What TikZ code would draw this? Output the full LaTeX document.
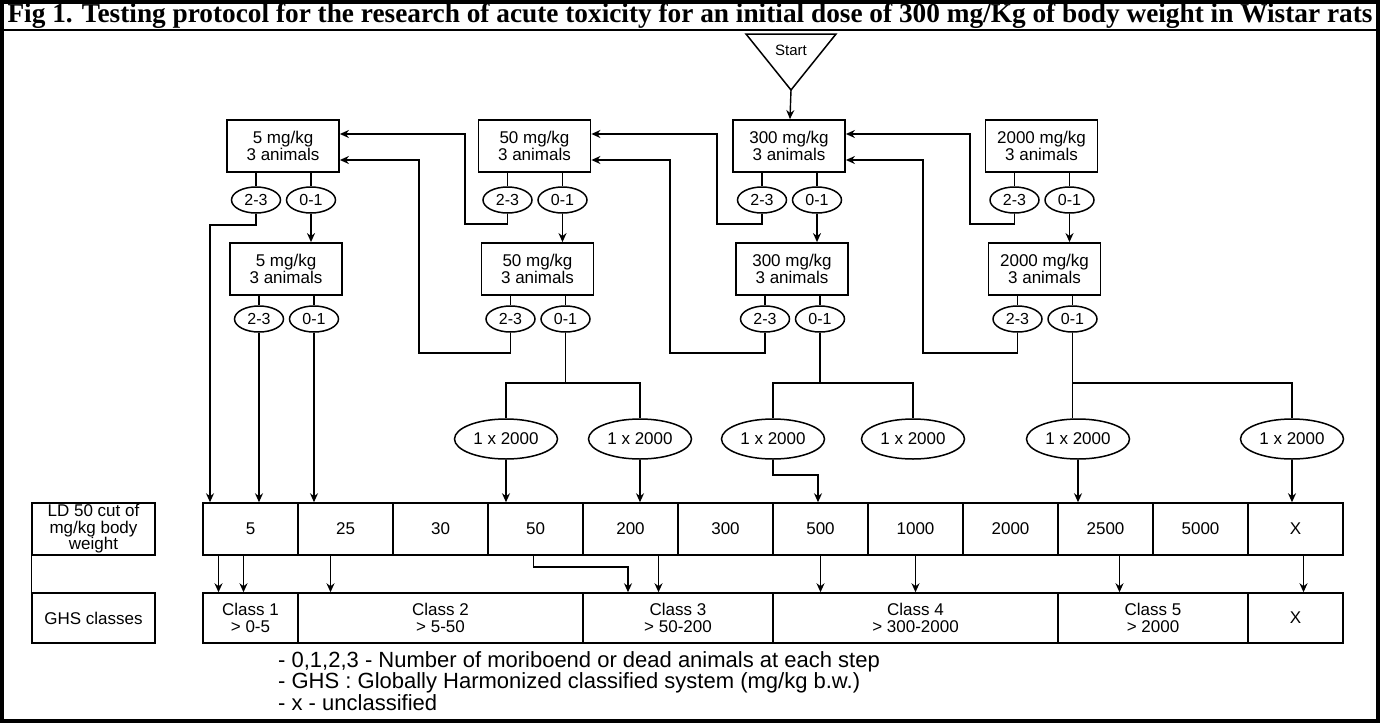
\documentclass[tikz,border=0pt]{standalone}
\usepackage{fontspec}
\setmainfont{Liberation Serif}
\newfontfamily\diagfont{Liberation Sans}
\usetikzlibrary{shapes.geometric, arrows.meta, calc}
\tikzstyle{box} = [rectangle, minimum width=112, minimum height=52, inner sep=0, align=center, draw=black, line width=1.8pt, font=\diagfont\fontsize{17}{17}\selectfont]
\tikzstyle{cnt} = [ellipse, minimum width=49, minimum height=26, inner sep=0, draw=black, line width=1.5pt, font=\diagfont\fontsize{16}{16}\selectfont]
\tikzstyle{dose} = [ellipse, minimum width=103, minimum height=40, inner sep=0, draw=black, line width=1.5pt, font=\diagfont\fontsize{17}{17}\selectfont]
\tikzstyle{cell} = [rectangle, minimum height=52, inner sep=0, align=center, draw=black, line width=1.5pt, font=\diagfont\fontsize{17}{16.5}\selectfont]
\tikzstyle{conn} = [line width=1.4pt]
\tikzstyle{arrow} = [line width=1.4pt, -{Stealth[length=9pt, width=8pt]}]

\begin{document}
\begin{tikzpicture}[x=1pt, y=-1pt]
    \useasboundingbox (0,0) rectangle (1380,723);
    \draw[line width=3.5pt] (2,2) rectangle (1378,721);
    \draw[line width=1.5pt] (2,30) -- (1378,30);
    \node (title) at (690,16) {\fontsize{27.3}{30}\selectfont\bfseries Fig 1. Testing protocol for the research of acute toxicity for an initial dose of 300 mg/Kg of body weight in Wistar rats};

    \draw[line width=1.5pt] (746,34) -- (836,34) -- (791,90) -- cycle;
    \node (start) [font=\diagfont\fontsize{15}{15}\selectfont] at (791,50) {Start};
    \coordinate (tip) at (791,90);

    \node (a5) [box] at (283,146) {5 mg/kg\\3 animals};
    \node (a50) [box] at (534.5,146) {50 mg/kg\\3 animals};
    \node (a300) [box] at (789,146) {300 mg/kg\\3 animals};
    \node (a2k) [box] at (1041.5,146) {2000 mg/kg\\3 animals};

    \node (p5) [cnt] at (256,200) {2-3};
    \node (q5) [cnt] at (311,200) {0-1};
    \node (p50) [cnt] at (507.5,200) {2-3};
    \node (q50) [cnt] at (562.5,200) {0-1};
    \node (p300) [cnt] at (762,200) {2-3};
    \node (q300) [cnt] at (817,200) {0-1};
    \node (p2k) [cnt] at (1014.5,200) {2-3};
    \node (q2k) [cnt] at (1069.5,200) {0-1};

    \node (b5) [box] at (286,269) {5 mg/kg\\3 animals};
    \node (b50) [box] at (537.5,269) {50 mg/kg\\3 animals};
    \node (b300) [box] at (792,269) {300 mg/kg\\3 animals};
    \node (b2k) [box] at (1044.5,269) {2000 mg/kg\\3 animals};

    \node (r5) [cnt] at (259,319) {2-3};
    \node (s5) [cnt] at (314,319) {0-1};
    \node (r50) [cnt] at (510.5,319) {2-3};
    \node (s50) [cnt] at (565.5,319) {0-1};
    \node (r300) [cnt] at (765,319) {2-3};
    \node (s300) [cnt] at (820,319) {0-1};
    \node (r2k) [cnt] at (1017.5,319) {2-3};
    \node (s2k) [cnt] at (1072.5,319) {0-1};

    \node (x1) [dose] at (506,439) {1 x 2000};
    \node (x2) [dose] at (640,439) {1 x 2000};
    \node (x3) [dose] at (773,439) {1 x 2000};
    \node (x4) [dose] at (913,439) {1 x 2000};
    \node (x5) [dose] at (1078,439) {1 x 2000};
    \node (x6) [dose] at (1292,439) {1 x 2000};

    \node (ld) [cell, minimum width=123] at (93.5,529) {LD 50 cut of\\mg/kg body\\weight};
    \node (c5) [cell, minimum width=95] at (250.5,529) {5};
    \node (c25) [cell, minimum width=95] at (345.5,529) {25};
    \node (c30) [cell, minimum width=95] at (440.5,529) {30};
    \node (c50) [cell, minimum width=95] at (535.5,529) {50};
    \node (c200) [cell, minimum width=95] at (630.5,529) {200};
    \node (c300) [cell, minimum width=95] at (725.5,529) {300};
    \node (c500) [cell, minimum width=95] at (820.5,529) {500};
    \node (c1000) [cell, minimum width=95] at (915.5,529) {1000};
    \node (c2000) [cell, minimum width=95] at (1010.5,529) {2000};
    \node (c2500) [cell, minimum width=95] at (1105.5,529) {2500};
    \node (c5000) [cell, minimum width=95] at (1200.5,529) {5000};
    \node (cx) [cell, minimum width=95] at (1295.5,529) {X};

    \node (ghs) [cell, minimum width=123, minimum height=50] at (93.5,618) {GHS classes};
    \node (g1) [cell, minimum width=95, minimum height=50] at (250.5,618) {Class 1\\> 0-5};
    \node (g2) [cell, minimum width=285, minimum height=50] at (440.5,618) {Class 2\\> 5-50};
    \node (g3) [cell, minimum width=190, minimum height=50] at (678,618) {Class 3\\> 50-200};
    \node (g4) [cell, minimum width=285, minimum height=50] at (915.5,618) {Class 4\\> 300-2000};
    \node (g5) [cell, minimum width=190, minimum height=50] at (1153,618) {Class 5\\> 2000};
    \node (gx) [cell, minimum width=95, minimum height=50] at (1295.5,618) {X};
    \draw[conn] (ld.south west) -- (ghs.north west);

    \node (notes) [anchor=north west, align=left, inner sep=0, font=\diagfont\fontsize{22}{19.5}\selectfont] at (278,651) {- 0,1,2,3 - Number of moriboend or dead animals at each step\\- GHS : Globally Harmonized classified system (mg/kg b.w.)\\- x - unclassified};

    \draw[arrow] (tip) -- (a300);
    \draw[conn] (a5.south -| p5) -- (p5);
    \draw[conn] (a5.south -| q5) -- (q5);
    \draw[conn] (a50.south -| p50) -- (p50);
    \draw[conn] (a50.south -| q50) -- (q50);
    \draw[conn] (a300.south -| p300) -- (p300);
    \draw[conn] (a300.south -| q300) -- (q300);
    \draw[conn] (a2k.south -| p2k) -- (p2k);
    \draw[conn] (a2k.south -| q2k) -- (q2k);
    \draw[arrow] (q5) -- (q5 |- b5.north);
    \draw[arrow] (q50) -- (q50 |- b50.north);
    \draw[arrow] (q300) -- (q300 |- b300.north);
    \draw[arrow] (q2k) -- (q2k |- b2k.north);
    \draw[conn] (b5.south -| r5) -- (r5);
    \draw[conn] (b5.south -| s5) -- (s5);
    \draw[conn] (b50.south -| r50) -- (r50);
    \draw[conn] (b50.south -| s50) -- (s50);
    \draw[conn] (b300.south -| r300) -- (r300);
    \draw[conn] (b300.south -| s300) -- (s300);
    \draw[conn] (b2k.south -| r2k) -- (r2k);
    \draw[conn] (b2k.south -| s2k) -- (s2k);

    \draw[arrow] (p50) |- (465,224) |- ($(a5.east)+(0,-12)$);
    \draw[arrow] (p300) |- (717,224) |- ($(a50.east)+(0,-12)$);
    \draw[arrow] (p2k) |- (970,224) |- ($(a300.east)+(0,-12)$);
    \draw[arrow] (r50) |- (419,353) |- ($(a5.east)+(0,14)$);
    \draw[arrow] (r300) |- (670,353) |- ($(a50.east)+(0,14)$);
    \draw[arrow] (r2k) |- (923,353) |- ($(a300.east)+(0,14)$);

    \coordinate (k5) at (210,225);
    \draw[arrow] (p5) |- (k5) -- (k5 |- c5.north);
    \draw[arrow] (r5) -- (r5 |- c5.north);
    \draw[arrow] (s5) -- (s5 |- c25.north);

    \coordinate (j50) at (565.5,383);
    \coordinate (j300) at (820,383);
    \coordinate (j2k) at (1072.5,383);
    \draw[conn] (s50) -- (j50);
    \draw[conn] (x1) |- (j50) -| (x2);
    \draw[conn] (s300) -- (j300);
    \draw[conn] (x3) |- (j300) -| (x4);
    \draw[conn] (s2k) -- (s2k |- x5.north);
    \draw[conn] (j2k) -| (x6);

    \draw[arrow] (x1) -- (x1 |- c50.north);
    \draw[arrow] (x2) -- (x2 |- c200.north);
    \coordinate (k3) at (818,475);
    \draw[arrow] (x3) |- (k3) -- (k3 |- c500.north);
    \draw[arrow] (x5) -- (x5 |- c2500.north);
    \draw[arrow] (x6) -- (x6 |- cx.north);

    \coordinate (v1) at ([xshift=-32]c5.south);
    \coordinate (v2) at ([xshift=-7]c5.south);
    \coordinate (v3) at ([xshift=-15]c25.south);
    \coordinate (v4) at ([xshift=-2]c50.south);
    \coordinate (k4) at (628,567);
    \coordinate (v5) at ([xshift=28]c200.south);
    \coordinate (v6) at ([xshift=14]c2500.south);
    \coordinate (v7) at ([xshift=8]cx.south);
    \draw[arrow] (v1) -- (v1 |- g1.north);
    \draw[arrow] (v2) -- (v2 |- g1.north);
    \draw[arrow] (v3) -- (v3 |- g2.north);
    \draw[arrow] (v4) |- (k4) -- (k4 |- g3.north);
    \draw[arrow] (v5) -- (v5 |- g3.north);
    \draw[arrow] (c500) -- (c500 |- g4.north);
    \draw[arrow] (c1000) -- (c1000 |- g4.north);
    \draw[arrow] (v6) -- (v6 |- g5.north);
    \draw[arrow] (v7) -- (v7 |- gx.north);
\end{tikzpicture}
\end{document}
